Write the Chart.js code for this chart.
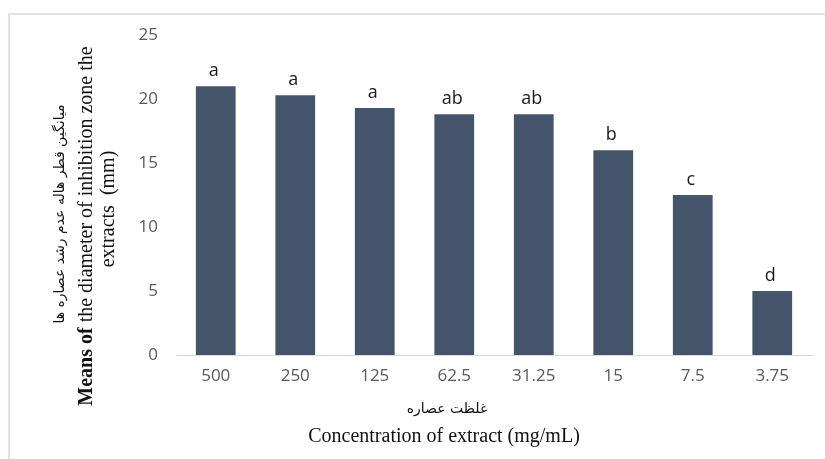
<!DOCTYPE html>
<html>
<head>
<meta charset="utf-8">
<script src="https://cdn.jsdelivr.net/npm/chart.js@4.4.1/dist/chart.umd.min.js"></script>
<style>
  html, body { margin: 0; padding: 0; background: #fff; }
  #wrap { position: relative; width: 825px; height: 459px; }
  #frame { position: absolute; left: 8px; top: 13px; right: 0; bottom: 0;
           border-top: 2px solid #dfe5ec; border-left: 2px solid #dfe5ec; }
  canvas { position: absolute; left: 0; top: 0; }
</style>
</head>
<body>
<div id="wrap">
  <div id="frame"></div>
  <canvas id="chart" width="825" height="459"></canvas>
</div>
<script>
// concentrations (mg/mL)
const categories = ["500", "250", "125", "62.5", "31.25", "15", "7.5", "3.75"];
// mean inhibition zone diameter (mm)
const means = [21.0, 20.3, 19.3, 18.8, 18.8, 16.0, 12.5, 5.0];
// significance letters above each bar
const letters = ["a", "a", "a", "ab", "ab", "b", "c", "d"];
const yTicks = [0, 5, 10, 15, 20, 25];

const barColor = "#44546a";
const tickColor = "#595959";

// letters over the bars
const letterPlugin = {
  id: "letters",
  afterDatasetsDraw(chart) {
    const ctx = chart.ctx;
    const meta = chart.getDatasetMeta(0);
    ctx.save();
    ctx.font = "18px 'Open Sans'";
    ctx.fillStyle = "#1a1a1a";
    ctx.textAlign = "center";
    ctx.textBaseline = "alphabetic";
    meta.data.forEach((bar, i) => {
      ctx.fillText(letters[i], bar.x - 2, bar.y - 10);
    });
    ctx.restore();
  }
};

// axis titles (Persian + English), placed like the original
const titlePlugin = {
  id: "titles",
  afterDraw(chart) {
    const ctx = chart.ctx;
    ctx.save();
    ctx.fillStyle = "#111";
    ctx.textAlign = "center";
    ctx.textBaseline = "middle";

    // x title
    ctx.font = "14px 'DejaVu Sans'";
    ctx.direction = "rtl";
    ctx.fillText("غلظت عصاره", 447, 409);
    ctx.direction = "ltr";
    ctx.font = "20px 'Liberation Serif'";
    ctx.fillText("Concentration of extract (mg/mL)", 444, 437);

    // y title (rotated)
    ctx.rotate(-Math.PI / 2);
    ctx.font = "14px 'DejaVu Sans'";
    ctx.direction = "rtl";
    ctx.fillText("میانگین قطر هاله عدم رشد عصاره ها", -214, 60);
    ctx.direction = "ltr";

    const bold = "Means of";
    const rest = " the diameter of inhibition zone the";
    ctx.font = "bold 20px 'Liberation Serif'";
    const wb = ctx.measureText(bold).width;
    ctx.font = "20px 'Liberation Serif'";
    const wr = ctx.measureText(rest).width;
    const start = -226 - (wb + wr) / 2;
    ctx.textAlign = "left";
    ctx.font = "bold 20px 'Liberation Serif'";
    ctx.fillText(bold, start, 87);
    ctx.font = "20px 'Liberation Serif'";
    ctx.fillText(rest, start + wb, 87);
    ctx.textAlign = "center";
    ctx.fillText("extracts  (mm)", -209, 109);
    ctx.restore();
  }
};

new Chart(document.getElementById("chart"), {
  type: "bar",
  data: {
    labels: categories,
    datasets: [{
      data: means,
      backgroundColor: barColor,
      barPercentage: 0.5,
      categoryPercentage: 1.0
    }]
  },
  plugins: [letterPlugin, titlePlugin],
  options: {
    responsive: false,
    animation: false,
    layout: { padding: { left: 0, right: 13, top: 35, bottom: 0 } },
    plugins: {
      legend: { display: false },
      tooltip: { enabled: false }
    },
    scales: {
      x: {
        grid: { display: false, drawTicks: false },
        border: { color: "#d9d9d9", width: 1 },
        ticks: { color: tickColor, font: { family: "Open Sans", size: 17 }, padding: 11 },
        afterFit: s => { s.height = 104; }
      },
      y: {
        min: 0,
        max: 25,
        afterBuildTicks: s => { s.ticks = yTicks.map(v => ({ value: v })); },
        grid: { display: false, drawTicks: false },
        border: { display: false },
        ticks: { color: tickColor, font: { family: "Open Sans", size: 17 }, padding: 18 },
        afterFit: s => { s.width = 176; }
      }
    }
  }
});
</script>
</body>
</html>
